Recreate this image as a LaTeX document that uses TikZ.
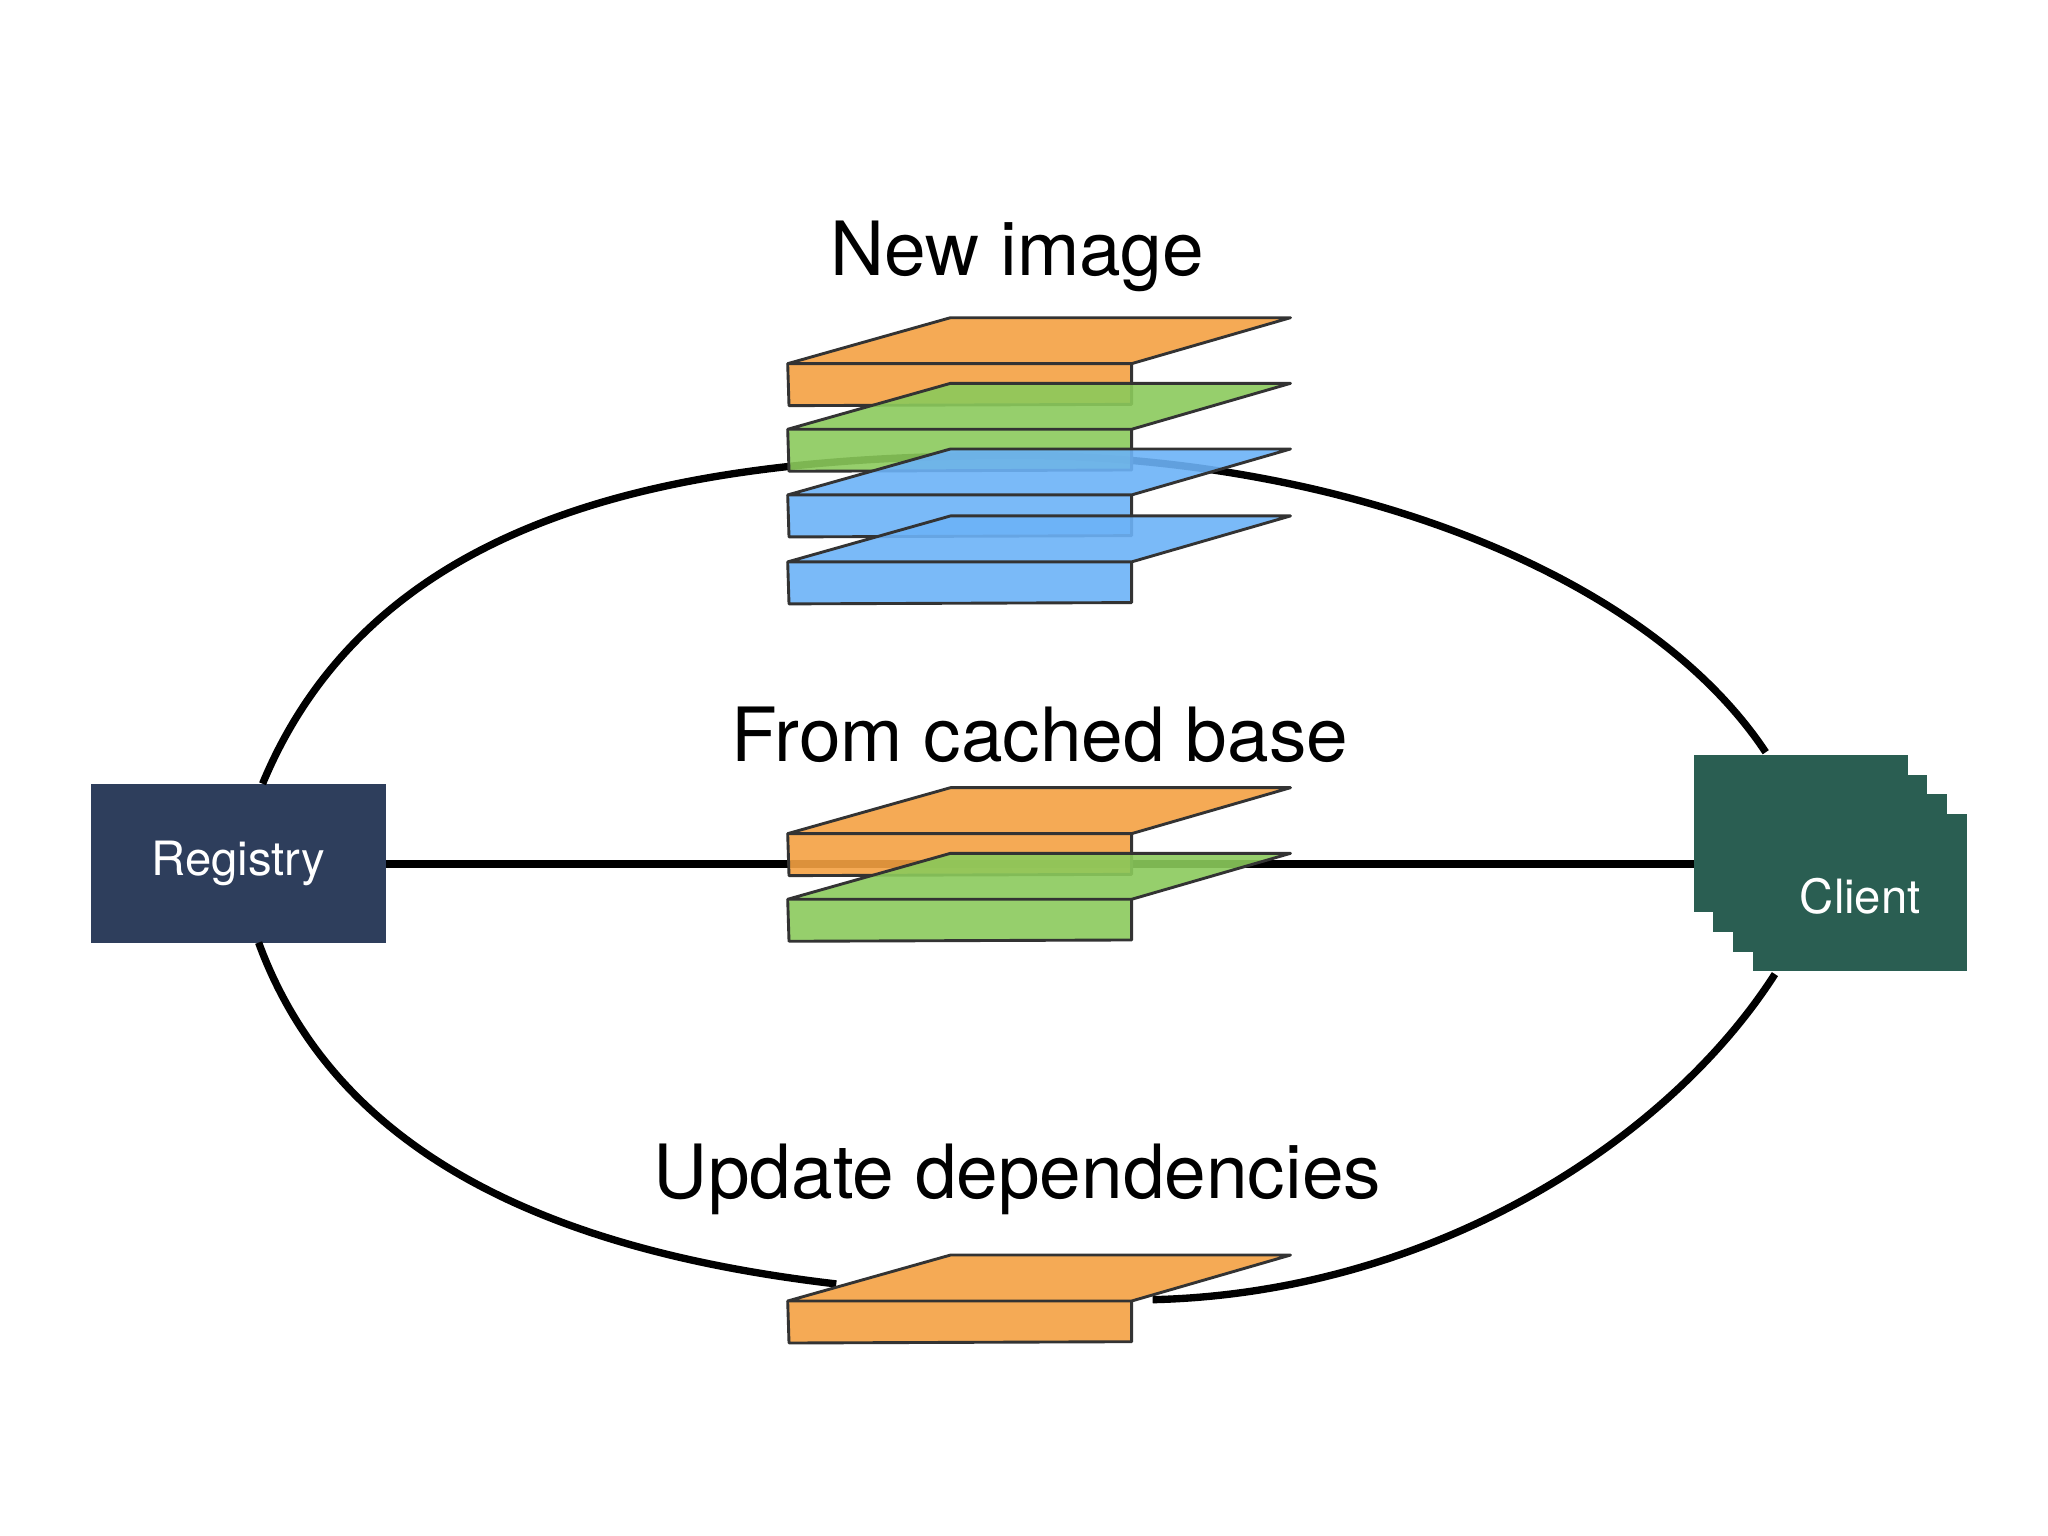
\documentclass[tikz,border=0pt]{standalone}
\usepackage{fontspec}
\setmainfont{TeX Gyre Heros}
\definecolor{regblue}{HTML}{2E3E5C}
\definecolor{cligreen}{HTML}{2A5E52}
\definecolor{lorange}{HTML}{F4A142}
\definecolor{lgreen}{HTML}{8BCA5C}
\definecolor{lblue}{HTML}{6CB2F7}
% one image layer: front edge top-left at (600,#2)
\newcommand\imglayer[2]{%
  \fill[#1, fill opacity=0.9] (600,#2) -- (724,#2-35) -- (983,#2-35) -- (862,#2) -- (862,#2+31) -- (601,#2+32) -- cycle;
  \draw[layer] (600,#2) -- (724,#2-35) -- (983,#2-35) -- (862,#2) -- cycle;
  \draw[layer] (600,#2) -- (601,#2+32) -- (862,#2+31) -- (862,#2);
}
\begin{document}
\begin{tikzpicture}[x=0.5pt,y=-0.5pt,
  layer/.style={draw=black!80, line width=1.1pt, line join=round},
  wire/.style={line width=2.8pt},
  box/.style={inner sep=0pt, minimum width=112.5pt, minimum height=60.5pt, text=white, font=\fontsize{18}{20}\selectfont},
  title/.style={font=\fontsize{28.5}{30}\selectfont}]
\useasboundingbox (0,0) rectangle (1560,1170);
\node[box, fill=regblue] (reg) at (181.5,657.5) {Registry};
\foreach \i in {0,1,2,3}
  \fill[cligreen] (1290+15*\i,575+15*\i) rectangle (1453+15*\i,695+15*\i);
\node[box, minimum width=81.5pt, minimum height=61pt] (cli) at (1416.5,681) {};
\node[text=white, font=\fontsize{18}{20}\selectfont] at (1417,683) {Client};
\coordinate (regtop) at (200,597);
\coordinate (regbot) at (197,718);
\coordinate (clitop) at (1345,573);
\coordinate (clibot) at (1352,742);
\coordinate (updl) at (637,978);
\coordinate (updr) at (878,990);
\coordinate (regE) at (294,658);
\coordinate (cliW) at (1290,658);
\draw[wire] (regtop) .. controls (290,380) and (540,347) .. (775,347) .. controls (1010,347) and (1250,430) .. (clitop);
\draw[wire] (regbot) .. controls (260,890) and (440,955) .. (updl);
\draw[wire] (updr) .. controls (1090,985) and (1270,870) .. (clibot);
\draw[wire] (regE) -- (cliW);
\node[title] at (775,195) {New image};
\imglayer{lorange}{277}
\imglayer{lgreen}{327}
\imglayer{lblue}{377}
\imglayer{lblue}{428}
\node[title] at (792,560) {From cached base};
\imglayer{lorange}{635}
\imglayer{lgreen}{685}
\node[title] at (775,898) {Update dependencies};
\imglayer{lorange}{991}
\end{tikzpicture}
\end{document}
